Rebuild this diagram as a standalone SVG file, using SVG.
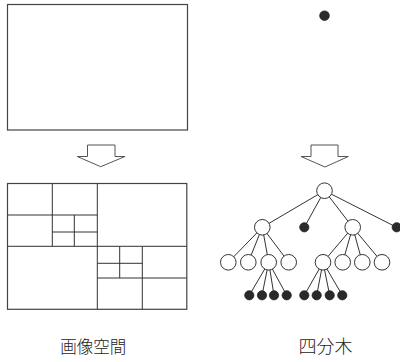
<svg xmlns="http://www.w3.org/2000/svg" width="400" height="362" viewBox="0 0 400 362">
<style>
.ln{stroke:#333;stroke-width:1;fill:none}
.box{stroke:#444;stroke-width:1.2;fill:#fff}
.arrow{stroke:#555;stroke-width:1;fill:#fff}
.open{stroke:#333;stroke-width:1;fill:#fff}
.fill{stroke:#222;stroke-width:0.8;fill:#2a2a2a}
.lbl{font-family:"Noto Sans CJK JP","Noto Sans CJK SC",sans-serif;font-weight:300;fill:#222;text-anchor:middle}
</style>
<rect width="400" height="362" fill="#fff"/>
<g id="image-top"><rect class="box" x="7.5" y="4.5" width="180" height="125.5"/></g>
<g id="root-top"><circle class="fill" cx="324.5" cy="15.7" r="4.8"/></g>
<g id="arrow-left"><polygon class="arrow" points="87.5,145 115,145 115,156.5 125,156.5 100.7,166.7 77.3,156.5 87.5,156.5"/></g>
<g id="arrow-right"><polygon class="arrow" points="311,145 338,145 338,156.5 348.3,156.5 325,167 301,156.5 311,156.5"/></g>
<g id="image-split">
<rect class="box" x="7.5" y="183.5" width="179.3" height="125.8"/>
<path class="ln" d="M97.3,183.5V309.3M7.5,246.3H186.8M52.3,183.5V246.3M7.5,215H97.3M74.3,215V246.3M52.3,232H97.3M142.3,246.3V309.3M97.3,278H186.8M119.7,246.3V278M97.3,263.3H142.3"/>
</g>
<g id="connectors">
<path class="ln" d="M324.5,190.7L262.3,227.3M324.5,190.7L304.3,227.3M324.5,190.7L352.7,227.3M324.5,190.7L396.7,227.3
M262.3,227.3L228.3,262.3M262.3,227.3L248.3,262.3M262.3,227.3L268.7,262.3M262.3,227.3L288.7,262.3
M352.7,227.3L323,262.3M352.7,227.3L342.7,262.3M352.7,227.3L362.3,262.3M352.7,227.3L382,262.3
M268.7,262.3L249.3,295.3M268.7,262.3L262,295.3M268.7,262.3L274,295.3M268.7,262.3L286.7,295.3
M323,262.3L304.3,295.3M323,262.3L316.7,295.3M323,262.3L329.7,295.3M323,262.3L342.3,295.3"/>
</g>
<g id="n-root"><circle class="open" cx="324.5" cy="190.7" r="7.8"/></g>
<g id="n-a"><circle class="open" cx="262.3" cy="227.3" r="7.8"/></g>
<g id="n-b"><circle class="fill" cx="304.3" cy="227.3" r="4.6"/></g>
<g id="n-c"><circle class="open" cx="352.7" cy="227.3" r="7.8"/></g>
<g id="n-d"><circle class="fill" cx="396.7" cy="227.3" r="4.6"/></g>
<g id="n-a1"><circle class="open" cx="228.3" cy="262.3" r="7.8"/></g>
<g id="n-a2"><circle class="open" cx="248.3" cy="262.3" r="7.8"/></g>
<g id="n-a3"><circle class="open" cx="268.7" cy="262.3" r="7.8"/></g>
<g id="n-a4"><circle class="open" cx="288.7" cy="262.3" r="7.8"/></g>
<g id="n-c1"><circle class="open" cx="323" cy="262.3" r="7.8"/></g>
<g id="n-c2"><circle class="open" cx="342.7" cy="262.3" r="7.8"/></g>
<g id="n-c3"><circle class="open" cx="362.3" cy="262.3" r="7.8"/></g>
<g id="n-c4"><circle class="open" cx="382" cy="262.3" r="7.8"/></g>
<g id="n-a31"><circle class="fill" cx="249.3" cy="295.3" r="4.6"/></g>
<g id="n-a32"><circle class="fill" cx="262" cy="295.3" r="4.6"/></g>
<g id="n-a33"><circle class="fill" cx="274" cy="295.3" r="4.6"/></g>
<g id="n-a34"><circle class="fill" cx="286.7" cy="295.3" r="4.6"/></g>
<g id="n-c11"><circle class="fill" cx="304.3" cy="295.3" r="4.6"/></g>
<g id="n-c12"><circle class="fill" cx="316.7" cy="295.3" r="4.6"/></g>
<g id="n-c13"><circle class="fill" cx="329.7" cy="295.3" r="4.6"/></g>
<g id="n-c14"><circle class="fill" cx="342.3" cy="295.3" r="4.6"/></g>
<g id="label-left"><text class="lbl" x="93.3" y="352.5" font-size="16.5">画像空間</text></g>
<g id="label-right"><text class="lbl" x="325.5" y="353" font-size="18">四分木</text></g>
</svg>
